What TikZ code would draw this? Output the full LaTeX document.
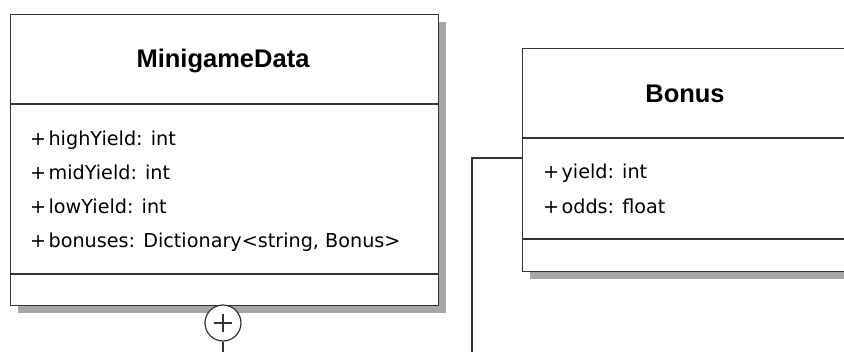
\documentclass[tikz,border=0pt]{standalone}
\usepackage{fontspec}
\setmainfont{DejaVu Sans}
\newfontfamily\titlefont{Liberation Sans}
\definecolor{edge}{HTML}{333333}
\definecolor{shade}{HTML}{A6A6A6}
\newcommand{\vis}{+\hspace{0.12em}}
\tikzset{
  x=1pt, y=-1pt,
  classbox/.style={draw=edge, line width=1.2pt, fill=white, rectangle, inner sep=0pt, anchor=north west},
  divider/.style={draw=edge, line width=1.2pt},
  shadowbox/.style={fill=shade},
  classtitle/.style={font=\titlefont\bfseries\fontsize{25.5}{30}\selectfont, anchor=base, inner sep=0pt},
  attr/.style={font=\fontsize{19.2}{23}\selectfont, anchor=base west, inner sep=0pt},
  link/.style={draw=edge, line width=1.2pt},
}
\begin{document}
\begin{tikzpicture}
\useasboundingbox (0,0) rectangle (844,351);
\begin{scope}
\clip (0,0) rectangle (844,351);

% drop shadows
\fill[shadowbox] (18,22) rectangle (446,313);
\fill[shadowbox] (530,56) rectangle (860,279);

% MinigameData class
\node[classbox, minimum width=428pt, minimum height=291pt] (mg) at (10,14) {};
\draw[divider] (10,104) -- (438,104);
\draw[divider] (10,274) -- (438,274);
\node[classtitle] (mgtitle) at (223,67) {MinigameData};
\node[attr] (mga1) at (30,145) {\vis highYield: int};
\node[attr] (mga2) at (30,179) {\vis midYield: int};
\node[attr] (mga3) at (30,213) {\vis lowYield: int};
\node[attr] (mga4) at (30,247) {\vis bonuses: Dictionary<string, Bonus>};

% Bonus class
\node[classbox, minimum width=340pt, minimum height=223pt] (bonus) at (522,48) {};
\draw[divider] (522,138) -- (862,138);
\draw[divider] (522,239) -- (862,239);
\node[classtitle] (bonustitle) at (685,102) {Bonus};
\node[attr] (ba1) at (543,178) {\vis yield: int};
\node[attr] (ba2) at (543,213) {\vis odds: float};

% nesting connector
\node[circle, draw=edge, line width=1.2pt, fill=white, minimum size=36pt, inner sep=0pt] (nest) at (223,323) {};
\draw[edge, line width=1.2pt] (nest.center) ++(-9,0) -- ++(18,0);
\draw[edge, line width=1.2pt] (nest.center) ++(0,-9) -- ++(0,18);
\coordinate (nestend) at (223,360);
\draw[link] (nest.south) -- (nestend);

\coordinate (bend) at (472,158);
\coordinate (linkend) at (472,360);
\draw[link] (bonus.west |- bend) -- (bend) -- (linkend);
\end{scope}
\end{tikzpicture}
\end{document}
